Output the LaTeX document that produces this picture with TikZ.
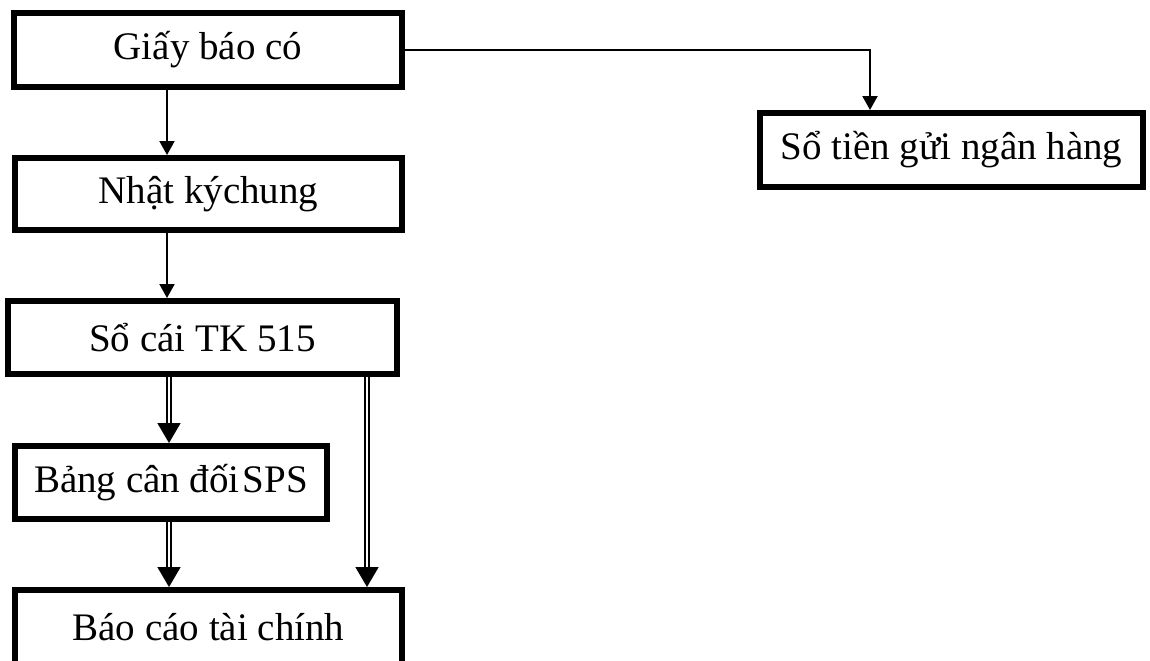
\documentclass[tikz,border=0pt]{standalone}
\usepackage{fontspec}
\setmainfont{Liberation Serif}
\usetikzlibrary{arrows.meta}
\begin{document}
\begin{tikzpicture}[x=0.5pt,y=-0.5pt,
  box/.style={draw=black,line width=3pt,fill=white,inner sep=0pt,
    font=\fontsize{19.5}{23}\selectfont},
  arr/.style={line width=1pt,-{Triangle[width=7.5pt,length=7pt]}},
  dbl/.style={double=white,draw=black,line width=0.85pt,double distance=1.3pt,
    -{Triangle[width=11.5pt,length=10pt]}}]
  \useasboundingbox (0,0) rectangle (1150,660);

  % boxes (outer size minus the 6px border)
  \node[box,minimum width=194pt,minimum height=37pt] (b1) at (208,50) {Giấy báo có};
  \node[box,minimum width=191.5pt,minimum height=37pt] (b2) at (951.5,150) {Sổ tiền gửi ngân hàng};
  \node[box,minimum width=193.5pt,minimum height=36pt] (b3) at (208.5,194) {Nhật kýchung};
  \node[box,minimum width=194.5pt,minimum height=36.5pt] (b4) at (202.5,337.5) {Sổ cái TK 515};
  \node[box,minimum width=156pt,minimum height=36.5pt] (b5) at (171,482.5) {Bảng cân đối\hspace{0.08em}SPS};
  \node[box,minimum width=193.5pt,minimum height=37pt] (b6) at (208.5,627) {Báo cáo tài chính};

  % connector columns
  \coordinate (c1) at (167,0);
  \coordinate (c2) at (169,0);
  \coordinate (c3) at (367,0);
  \coordinate (c4) at (870,0);

  % single-line arrows
  \draw[arr] (b1.south -| c1) -- (b3.north -| c1);
  \draw[arr] (b3.south -| c1) -- (b4.north -| c1);
  \draw[arr] (b1.east) -| (b2.north -| c4);

  % double-line arrows
  \draw[dbl] (b4.south -| c2) -- (b5.north -| c2);
  \draw[dbl] (b5.south -| c2) -- (b6.north -| c2);
  \draw[dbl] (b4.south -| c3) -- (b6.north -| c3);
\end{tikzpicture}
\end{document}
